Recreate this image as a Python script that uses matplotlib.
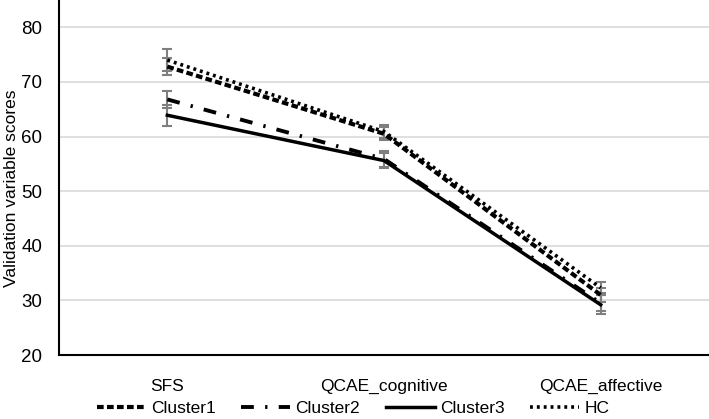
import matplotlib
matplotlib.use('Agg')
import matplotlib.pyplot as plt

plt.rcParams['font.family'] = ['Liberation Sans', 'DejaVu Sans']

categories = ['SFS', 'QCAE_cognitive', 'QCAE_affective']
series = ['Cluster1', 'Cluster2', 'Cluster3', 'HC']
cluster1 = [72.8, 60.5, 31.0]
cluster2 = [66.8, 55.9, 29.5]
cluster3 = [63.9, 55.6, 29.2]
hc = [74.0, 60.9, 32.3]
err1 = [1.5, 1.2, 1.3]
err2 = [1.6, 1.5, 1.4]
err3 = [1.9, 1.4, 1.7]
errhc = [2.0, 1.2, 1.0]

styles = {
    'Cluster1': dict(linestyle=(0, (1.6, 0.8)), lw=3.0),
    'Cluster2': dict(linestyle=(0, (3.3, 2.9, 0.6, 2.9)), lw=2.8),
    'Cluster3': dict(linestyle='-', lw=2.5),
    'HC': dict(linestyle=(0, (0.8, 1.1)), lw=2.6),
}

fig = plt.figure(figsize=(7.09, 4.19), dpi=100)
ax = fig.add_axes([0.0832, 0.1527, 0.9168, 0.8473])

x = range(len(categories))
for name, vals, err in zip(series, [cluster1, cluster2, cluster3, hc],
                           [err1, err2, err3, errhc]):
    ax.errorbar(x, vals, yerr=err, fmt='none', ecolor='#7f7f7f',
                elinewidth=1.5, capsize=3.5, capthick=1.5, zorder=2)
    ax.plot(x, vals, color='black', label=name, zorder=3,
            dash_capstyle='butt', **styles[name])

ax.set_xlim(-0.5, 2.5)
ax.set_ylim(20, 85)
ax.set_yticks([20, 30, 40, 50, 60, 70, 80])
ax.set_xticks(list(x))
ax.set_xticklabels(categories, fontsize=12.5)
ax.tick_params(axis='y', labelsize=13.5)
ax.tick_params(axis='both', length=0)
ax.tick_params(axis='x', pad=17)
ax.tick_params(axis='y', pad=12)
ax.grid(axis='y', color='#d9d9d9', lw=1.2)
ax.set_axisbelow(True)
for s in ['top', 'right']:
    ax.spines[s].set_visible(False)
for s in ['left', 'bottom']:
    ax.spines[s].set_linewidth(1.5)
ax.set_ylabel('Validation variable scores', fontsize=12.5)
ax.yaxis.set_label_coords(-0.062, 0.47)

fig.legend(loc='center', bbox_to_anchor=(0.498, 0.026), ncol=4, frameon=False,
           fontsize=12.5, handlelength=2.8, columnspacing=1.5, handletextpad=0.3)

fig.savefig('out.png', dpi=100)
